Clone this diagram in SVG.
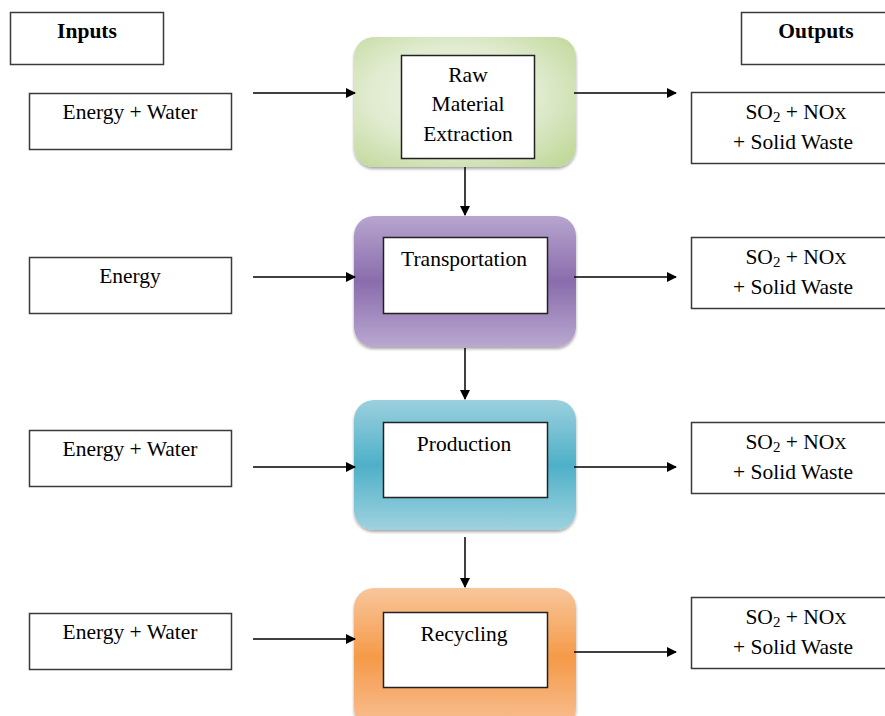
<svg xmlns="http://www.w3.org/2000/svg" width="885" height="716" viewBox="0 0 885 716">
<defs>
<style>
.box{fill:#fff;stroke:#3a3a3a;stroke-width:1.5}
.t{font-family:"Liberation Serif","Times New Roman",serif;font-size:21.5px;fill:#000;text-anchor:middle}
.b{font-weight:bold}
.c{stroke:#000;stroke-width:1.5;fill:none;marker-end:url(#ah)}
.inner{fill:#fff;stroke:#222;stroke-width:1.5}
</style>
<marker id="ah" markerWidth="10" markerHeight="10" refX="9" refY="5" orient="auto" markerUnits="userSpaceOnUse">
<path d="M0,0 L10,5 L0,10 Z" fill="#000"/>
</marker>
<radialGradient id="gGreen" cx="0.45" cy="0.45" r="0.7">
<stop offset="0" stop-color="#f1f6ea"/>
<stop offset="0.55" stop-color="#e0ebcf"/>
<stop offset="1" stop-color="#c2d99c"/>
</radialGradient>
<linearGradient id="gPurple" x1="0" y1="0" x2="0" y2="1">
<stop offset="0" stop-color="#b7a5cf"/>
<stop offset="0.5" stop-color="#8a6cac"/>
<stop offset="1" stop-color="#b9a8d0"/>
</linearGradient>
<linearGradient id="gBlue" x1="0" y1="0" x2="0" y2="1">
<stop offset="0" stop-color="#9bd0de"/>
<stop offset="0.5" stop-color="#4eb0c8"/>
<stop offset="1" stop-color="#9fd2df"/>
</linearGradient>
<linearGradient id="gOrange" x1="0" y1="0" x2="0" y2="1">
<stop offset="0" stop-color="#f8c69b"/>
<stop offset="0.5" stop-color="#f59a48"/>
<stop offset="1" stop-color="#f8c096"/>
</linearGradient>
<filter id="sh" x="-5%" y="-5%" width="110%" height="115%">
<feDropShadow dx="0" dy="2" stdDeviation="1.5" flood-color="#000" flood-opacity="0.35"/>
</filter>
</defs>

<g id="inputs-header">
<rect class="box" x="10.5" y="12.5" width="153" height="52"/>
<text class="t b" x="87" y="38">Inputs</text>
</g>
<g id="outputs-header">
<rect class="box" x="741.5" y="12.5" width="150" height="52"/>
<text class="t b" x="816" y="38">Outputs</text>
</g>

<g id="in1">
<rect class="box" x="29.5" y="93.5" width="202" height="56"/>
<text class="t" x="130" y="119">Energy + Water</text>
</g>
<g id="in2">
<rect class="box" x="29.5" y="257.5" width="202" height="56"/>
<text class="t" x="130" y="283">Energy</text>
</g>
<g id="in3">
<rect class="box" x="29.5" y="430.5" width="202" height="56"/>
<text class="t" x="130" y="456">Energy + Water</text>
</g>
<g id="in4">
<rect class="box" x="29.5" y="613.5" width="202" height="56"/>
<text class="t" x="130" y="639">Energy + Water</text>
</g>

<g id="n1">
<rect x="354" y="37" width="222" height="130" rx="20" fill="url(#gGreen)" filter="url(#sh)"/>
<rect class="inner" x="401.5" y="55.5" width="133" height="103"/>
<text class="t" x="468" y="82">Raw</text>
<text class="t" x="468" y="111">Material</text>
<text class="t" x="468" y="141">Extraction</text>
</g>
<g id="n2">
<rect x="354" y="216" width="222" height="131" rx="20" fill="url(#gPurple)" filter="url(#sh)"/>
<rect class="inner" x="383.5" y="237.5" width="164" height="76"/>
<text class="t" x="464" y="266">Transportation</text>
</g>
<g id="n3">
<rect x="354" y="400" width="222" height="130" rx="20" fill="url(#gBlue)" filter="url(#sh)"/>
<rect class="inner" x="383.5" y="422.5" width="164" height="75"/>
<text class="t" x="464" y="451">Production</text>
</g>
<g id="n4">
<rect x="354" y="588" width="222" height="140" rx="20" fill="url(#gOrange)" filter="url(#sh)"/>
<rect class="inner" x="383.5" y="612.5" width="164" height="75"/>
<text class="t" x="464" y="641">Recycling</text>
</g>

<g id="out1">
<rect class="box" x="691.5" y="92.5" width="200" height="71"/>
<text class="t" x="796" y="119">SO<tspan font-size="15" dy="3">2</tspan><tspan dy="-3"> + NO</tspan><tspan font-size="17">X</tspan></text>
<text class="t" x="793" y="149">+ Solid Waste</text>
</g>
<g id="out2">
<rect class="box" x="691.5" y="237.5" width="200" height="71"/>
<text class="t" x="796" y="264">SO<tspan font-size="15" dy="3">2</tspan><tspan dy="-3"> + NO</tspan><tspan font-size="17">X</tspan></text>
<text class="t" x="793" y="294">+ Solid Waste</text>
</g>
<g id="out3">
<rect class="box" x="691.5" y="422.5" width="200" height="71"/>
<text class="t" x="796" y="449">SO<tspan font-size="15" dy="3">2</tspan><tspan dy="-3"> + NO</tspan><tspan font-size="17">X</tspan></text>
<text class="t" x="793" y="479">+ Solid Waste</text>
</g>
<g id="out4">
<rect class="box" x="691.5" y="597.5" width="200" height="71"/>
<text class="t" x="796" y="624">SO<tspan font-size="15" dy="3">2</tspan><tspan dy="-3"> + NO</tspan><tspan font-size="17">X</tspan></text>
<text class="t" x="793" y="654">+ Solid Waste</text>
</g>

<g id="connectors">
<line class="c" x1="253" y1="93" x2="355" y2="93"/>
<line class="c" x1="253" y1="277" x2="355" y2="277"/>
<line class="c" x1="253" y1="467" x2="355" y2="467"/>
<line class="c" x1="253" y1="639" x2="355" y2="639"/>
<line class="c" x1="574" y1="93" x2="676" y2="93"/>
<line class="c" x1="574" y1="277" x2="676" y2="277"/>
<line class="c" x1="574" y1="467" x2="676" y2="467"/>
<line class="c" x1="574" y1="652" x2="676" y2="652"/>
<line class="c" x1="465" y1="167" x2="465" y2="215"/>
<line class="c" x1="465" y1="348" x2="465" y2="399"/>
<line class="c" x1="465" y1="537" x2="465" y2="587"/>
</g>
</svg>
